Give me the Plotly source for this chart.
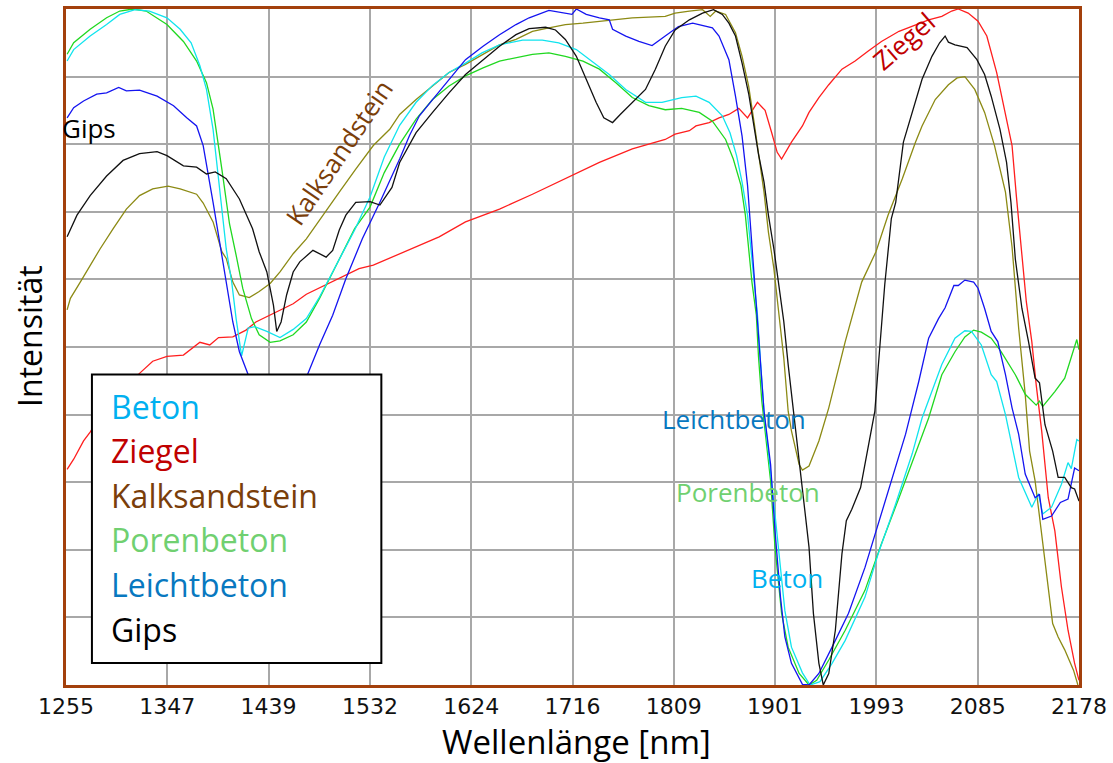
import plotly.graph_objects as go

# ---------------- data (wavelength nm, intensity %) ----------------
beton = [(1256,92.3),(1262,94.0),(1277,96.0),(1292,97.7),(1304,99.2),(1318,99.9),(1331,99.7),(1347,98.7),(1359,97.0),(1369,95.0),
         (1377,91.6),(1383,88.1),(1389,82.2),(1395,73.4),(1401,64.5),(1406,59.6),(1410,54.2),(1415,48.7),(1421,52.8),(1427,53.0),
         (1438,52.3),(1450,51.4),(1462,52.6),(1474,54.2),(1486,57.4),(1498,61.1),(1510,64.8),(1518,67.3),(1532,72.2),(1545,78.1),
         (1559,82.8),(1574,86.2),(1589,88.7),(1604,90.6),(1619,92.0),(1634,93.5),(1650,94.7),(1671,95.4),(1689,95.4),(1704,95.0),
         (1720,94.0),(1734,92.3),(1750,90.3),(1765,88.1),(1783,86.2),(1798,86.2),(1816,86.9),(1829,87.1),(1841,86.2),(1853,84.2),
         (1860,81.7),(1866,78.3),(1871,74.4),(1876,69.5),(1879,64.5),(1882,59.6),(1885,54.8),(1888,47.4),(1891,40.5),(1898,30.0),
         (1904,21.0),(1910,11.0),(1916,5.6),(1926,1.8),(1933,0.0),(1942,0.5),(1953,3.2),(1965,6.6),(1983,13.0),(1995,19.4),
         (2011,26.8),(2026,34.2),(2035,39.5),(2047,44.9),(2053,47.4),(2065,51.3),(2074,52.4),(2080,52.3),(2089,50.3),(2098,45.9),
         (2103,44.9),(2111,40.0),(2123,30.7),(2135,26.3),(2141,28.3),(2145,25.3),(2153,26.3),(2162,29.7),(2168,32.9),(2171,32.0),
         (2176,36.3),(2178,36.1)]

ziegel = [(1256,31.9),(1262,33.4),(1271,36.1),(1277,37.4),(1295,42.0),(1309,44.2),(1322,46.1),(1334,47.9),(1347,48.6),(1362,48.8),
          (1377,50.7),(1386,50.3),(1394,51.4),(1407,51.5),(1419,52.5),(1428,53.7),(1444,55.0),(1462,56.4),(1474,57.8),(1504,60.2),
          (1522,61.6),(1535,62.1),(1565,64.2),(1580,65.3),(1595,66.3),(1619,68.5),(1650,70.4),(1680,72.6),(1710,74.9),(1741,77.3),
          (1771,79.3),(1801,80.7),(1810,81.5),(1823,82.0),(1829,82.7),(1841,83.2),(1850,83.9),(1859,84.4),(1868,85.3),(1876,83.9),
          (1885,86.2),(1892,85.0),(1898,81.7),(1903,78.8),(1907,77.8),(1916,80.3),(1926,82.7),(1932,84.7),(1941,86.9),(1950,88.8),
          (1962,91.1),(1974,92.3),(1986,93.8),(1998,95.2),(2014,96.7),(2029,97.7),(2041,98.4),(2053,98.9),(2062,99.7),(2068,100.0),
          (2077,99.4),(2086,98.2),(2094,96.0),(2103,90.6),(2111,84.7),(2117,79.8),(2121,72.2),(2126,64.1),(2130,56.7),(2135,50.8),
          (2139,44.4),(2144,37.6),(2150,27.7),(2156,22.8),(2162,14.5),(2168,8.1),(2174,3.2),(2178,0.7)]

kalksandstein = [(1256,55.5),(1259,57.2),(1268,59.6),(1277,62.1),(1286,64.5),(1298,67.5),(1310,70.4),(1322,72.4),(1334,73.4),(1348,73.8),
                 (1359,73.4),(1374,72.6),(1380,71.3),(1389,68.5),(1397,64.1),(1401,63.1),(1407,59.6),(1413,57.7),(1422,57.3),(1431,58.2),
                 (1441,59.4),(1450,61.1),(1462,63.8),(1474,66.0),(1489,69.5),(1504,72.9),(1519,76.3),(1535,79.8),(1550,82.2),(1559,84.4),
                 (1574,86.6),(1589,88.6),(1604,90.6),(1619,91.8),(1635,93.3),(1650,94.7),(1665,95.5),(1680,96.7),(1695,97.2),(1710,97.7),
                 (1726,97.9),(1741,98.2),(1771,98.7),(1801,98.9),(1810,99.4),(1823,99.7),(1835,99.9),(1842,98.9),(1847,99.7),(1856,99.2),
                 (1865,96.5),(1871,93.0),(1877,88.6),(1882,83.2),(1886,78.3),(1891,72.9),(1895,67.0),(1900,61.6),(1904,55.7),(1909,48.4),
                 (1913,40.5),(1916,37.6),(1923,32.6),(1926,31.8),(1932,32.4),(1941,36.1),(1950,41.0),(1965,50.8),(1980,59.6),(1993,64.1),
                 (2004,69.5),(2017,74.9),(2029,80.3),(2035,82.7),(2047,86.6),(2059,88.8),(2067,89.8),(2074,90.0),(2083,88.1),(2092,84.7),
                 (2101,79.8),(2111,72.9),(2117,64.8),(2123,52.8),(2129,43.0),(2133,34.6),(2138,30.2),(2147,17.9),(2154,9.1),(2159,7.1),
                 (2165,5.2),(2173,2.2),(2177,0.0)]

porenbeton = [(1256,93.3),(1262,95.0),(1277,97.0),(1292,98.7),(1304,99.7),(1316,100.0),(1328,99.7),(1347,97.7),(1362,95.2),(1374,92.3),
              (1383,89.1),(1389,85.2),(1397,76.3),(1404,68.2),(1410,63.6),(1416,58.7),(1424,54.2),(1431,51.8),(1441,50.7),(1450,50.9),
              (1462,51.8),(1474,53.7),(1486,57.2),(1498,61.1),(1510,65.0),(1518,67.5),(1532,70.7),(1545,75.8),(1559,80.0),(1574,83.7),
              (1589,86.6),(1604,88.6),(1619,90.1),(1635,91.3),(1650,92.3),(1680,93.3),(1695,93.5),(1710,93.0),(1726,92.3),(1741,91.1),
              (1756,89.1),(1771,86.9),(1786,85.7),(1801,85.1),(1816,85.3),(1832,84.7),(1844,83.4),(1856,80.7),(1863,77.8),(1870,73.9),
              (1874,69.5),(1877,64.5),(1880,59.6),(1884,54.7),(1886,48.5),(1889,42.0),(1897,30.2),(1901,20.4),(1907,10.6),(1913,5.6),
              (1923,1.7),(1932,0.0),(1939,0.7),(1950,3.7),(1965,8.1),(1983,14.0),(1998,20.9),(2014,27.7),(2029,34.1),(2041,39.5),
              (2053,45.9),(2065,49.3),(2074,51.5),(2082,52.5),(2089,52.2),(2098,51.3),(2107,49.3),(2120,45.9),(2129,43.0),(2139,41.4),
              (2142,42.0),(2145,41.2),(2156,43.4),(2165,45.4),(2176,51.1),(2178,49.6)]

leichtbeton = [(1256,83.9),(1262,85.4),(1271,86.4),(1277,86.9),(1283,87.4),(1292,87.6),(1303,88.4),(1310,87.9),(1322,88.0),(1338,87.1),
               (1353,85.7),(1365,83.9),(1374,82.7),(1380,79.8),(1384,76.3),(1389,71.4),(1395,65.5),(1401,59.6),(1407,53.7),(1413,49.3),
               (1421,45.9),(1433,37.6),(1448,33.1),(1463,39.0),(1475,45.9),(1486,50.3),(1498,54.7),(1510,60.1),(1518,63.1),(1525,66.0),
               (1541,71.4),(1559,77.8),(1568,81.3),(1577,84.2),(1589,86.6),(1604,89.6),(1619,92.5),(1635,94.5),(1650,96.2),(1665,97.7),
               (1677,98.7),(1695,99.8),(1716,99.2),(1720,100.0),(1729,99.2),(1741,98.7),(1750,98.4),(1753,97.0),(1765,96.0),(1777,95.2),
               (1789,94.6),(1801,96.0),(1813,97.4),(1826,97.9),(1844,97.2),(1850,96.0),(1859,92.5),(1865,87.1),(1871,81.2),(1876,73.9),
               (1879,67.0),(1882,61.6),(1885,54.7),(1888,47.4),(1891,40.5),(1897,32.6),(1901,22.8),(1906,13.0),(1910,7.1),(1916,3.2),
               (1926,0.1),(1932,0.0),(1941,1.7),(1953,5.6),(1968,10.6),(1983,17.4),(1995,23.8),(2007,30.2),(2020,37.1),(2032,44.9),
               (2041,51.3),(2050,54.2),(2056,55.8),(2064,59.1),(2068,59.1),(2074,59.9),(2082,59.6),(2086,58.7),(2092,55.7),(2098,52.3),
               (2104,50.8),(2111,45.9),(2117,41.0),(2123,37.1),(2129,31.2),(2138,27.7),(2142,28.2),(2145,24.5),(2153,25.0),(2161,27.0),
               (2168,27.5),(2174,32.1),(2178,31.7)]

gips = [(1256,66.3),(1265,69.5),(1277,72.4),(1292,75.3),(1307,77.6),(1322,78.6),(1338,78.9),(1347,78.3),(1362,76.8),(1374,76.6),
        (1383,75.6),(1391,75.9),(1401,74.9),(1413,71.9),(1425,67.5),(1431,64.1),(1438,61.1),(1444,56.2),(1447,52.3),(1451,53.7),
        (1456,57.7),(1462,61.1),(1468,62.6),(1480,64.3),(1492,63.3),(1498,64.3),(1504,67.3),(1510,69.5),(1519,71.4),(1532,71.5),
        (1541,71.0),(1552,73.6),(1559,77.3),(1574,81.7),(1589,84.7),(1604,87.6),(1619,90.3),(1635,92.5),(1650,94.5),(1665,96.2),
        (1677,97.1),(1692,97.3),(1701,96.9),(1710,95.5),(1720,93.0),(1729,89.6),(1738,86.2),(1745,83.9),(1753,83.2),(1760,84.4),
        (1771,86.2),(1783,88.1),(1792,91.1),(1801,94.5),(1810,96.9),(1823,98.4),(1835,99.4),(1845,99.9),(1853,99.2),(1859,97.9),
        (1865,96.0),(1871,92.0),(1877,87.5),(1882,82.5),(1886,78.5),(1891,74.4),(1895,69.5),(1900,64.5),(1904,59.6),(1909,53.8),
        (1913,47.4),(1920,37.6),(1926,29.2),(1932,20.4),(1936,10.6),(1941,3.2),(1945,0.0),(1950,1.7),(1956,8.1),(1962,19.4),
        (1966,24.3),(1971,26.0),(1979,29.2),(1986,35.1),(1992,40.5),(1995,46.9),(2001,59.2),(2007,69.0),(2011,71.4),(2018,80.3),
        (2026,84.7),(2035,89.6),(2044,93.0),(2051,95.0),(2056,96.0),(2059,95.1),(2065,94.7),(2076,94.3),(2085,92.5),(2092,90.3),
        (2098,87.1),(2106,82.2),(2112,77.3),(2116,71.4),(2120,63.0),(2126,55.7),(2132,50.8),(2138,45.4),(2142,44.7),(2147,38.5),
        (2154,34.6),(2159,30.7),(2165,30.7),(2171,29.2),(2174,29.0),(2178,27.2)]

tick_values = [1255, 1347.3, 1439.6, 1531.9, 1624.2, 1716.5, 1808.8, 1901.1, 1993.4, 2085.7, 2178]
tick_labels = ["1255", "1347", "1439", "1532", "1624", "1716", "1809", "1901", "1993", "2085", "2178"]

series_names = ["Beton", "Ziegel", "Kalksandstein", "Porenbeton", "Leichtbeton", "Gips"]
line_colors = {"Beton": "#10e4ee", "Ziegel": "#ff1e1e", "Kalksandstein": "#8c8a14",
               "Porenbeton": "#20d820", "Leichtbeton": "#1414f0", "Gips": "#111111"}
label_colors = {"Beton": "#00b0f0", "Ziegel": "#c00000", "Kalksandstein": "#7a3e0a",
                "Porenbeton": "#70d070", "Leichtbeton": "#0878c0", "Gips": "#000000"}
series_data = {"Beton": beton, "Ziegel": ziegel, "Kalksandstein": kalksandstein,
               "Porenbeton": porenbeton, "Leichtbeton": leichtbeton, "Gips": gips}

# ---------------- figure ----------------
fig = go.Figure()
draw_order = ["Ziegel", "Kalksandstein", "Porenbeton", "Beton", "Leichtbeton", "Gips"]
for name in draw_order:
    pts = series_data[name]
    fig.add_trace(go.Scatter(
        x=[p[0] for p in pts], y=[p[1] for p in pts], mode="lines", name=name,
        line=dict(color=line_colors[name], width=1.3), showlegend=False, hoverinfo="skip"))

FONT = "Open Sans"
border = "#a3400c"

fig.update_layout(
    width=1113, height=763,
    margin=dict(l=66, r=32, t=6, b=78),
    paper_bgcolor="white", plot_bgcolor="white",
    showlegend=False,
    xaxis=dict(range=[1255, 2178], tickvals=tick_values, ticktext=tick_labels,
               showgrid=True, gridcolor="#a8a8a8", gridwidth=1.5,
               showline=True, linecolor=border, linewidth=2.5, mirror=True,
               ticks="", zeroline=False,
               tickfont=dict(family="DejaVu Sans", size=22, color="#111111")),
    yaxis=dict(range=[0, 100], tickvals=list(range(0, 101, 10)), showticklabels=False,
               showgrid=True, gridcolor="#a8a8a8", gridwidth=1.5,
               showline=True, linecolor=border, linewidth=2.5, mirror=True,
               ticks="", zeroline=False),
)

# legend box (drawn over the curves)
fig.add_shape(type="rect", xref="paper", yref="paper",
              x0=0.0256, x1=0.3113, y0=0.0324, y1=0.4595,
              fillcolor="white", line=dict(color="black", width=2), layer="above")

legend_y = [0.4125, 0.3465, 0.2805, 0.2145, 0.1485, 0.0825]
for name, yy in zip(series_names, legend_y):
    fig.add_annotation(text=name, xref="paper", yref="paper", x=0.0425, y=yy,
                       xanchor="left", yanchor="middle", showarrow=False,
                       font=dict(family=FONT, size=32, color=label_colors[name]))

# in-plot labels
inplot = [("Gips", 1276, 82.4, 0), ("Kalksandstein", 1504, 78.8, -56),
          ("Ziegel", 2018, 95.3, -41), ("Leichtbeton", 1864, 39.3, 0),
          ("Porenbeton", 1876, 28.6, 0), ("Beton", 1912, 15.9, 0)]
for name, xx, yy, ang in inplot:
    fig.add_annotation(text=name, x=xx, y=yy, xref="x", yref="y", showarrow=False,
                       textangle=ang, xanchor="center", yanchor="middle",
                       font=dict(family=FONT, size=26, color=label_colors[name]))

# axis titles
fig.add_annotation(text="Wellenlänge [nm]", xref="paper", yref="paper", x=0.504, y=-0.084,
                   xanchor="center", yanchor="middle", showarrow=False,
                   font=dict(family=FONT, size=33, color="black"))
fig.add_annotation(text="Intensität", xref="paper", yref="paper", x=-0.0355, y=0.515,
                   xanchor="center", yanchor="middle", showarrow=False, textangle=-90,
                   font=dict(family=FONT, size=32, color="black"))

fig.write_html("out.html", config={"displayModeBar": False},
               post_script="document.body.style.margin='0';")
